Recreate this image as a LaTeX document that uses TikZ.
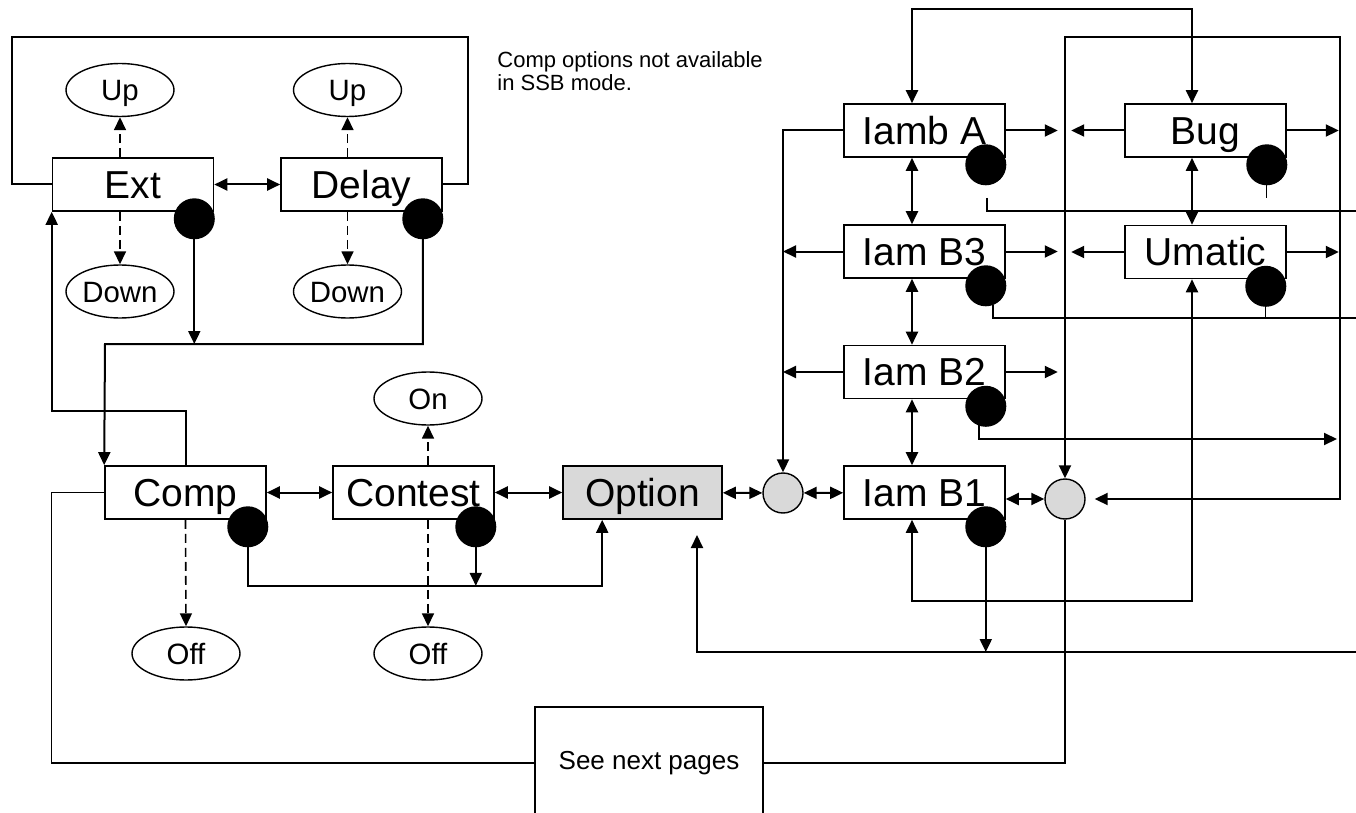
\documentclass[tikz,border=0pt]{standalone}
\usepackage{fontspec}
\setmainfont{Liberation Sans}
\usetikzlibrary{arrows.meta,shapes.geometric,calc}
\definecolor{lgray}{RGB}{217,217,217}
\begin{document}
\begin{tikzpicture}[x=0.5pt,y=-0.5pt,
  box/.style={draw,line width=0.8pt,minimum width=80.5pt,minimum height=26.5pt,inner sep=0pt,fill=white,font=\fontsize{19.5}{22}\selectfont,text height=13.9pt,text depth=0pt},
  oval/.style={draw,ellipse,line width=0.7pt,minimum width=54pt,minimum height=26.5pt,inner sep=0pt,font=\fontsize{14.7}{16}\selectfont,text height=10.5pt,text depth=0pt},
  bdot/.style={circle,fill=black,minimum size=20.5pt,inner sep=0pt},
  junc/.style={circle,draw,line width=0.7pt,fill=lgray,minimum size=20pt,inner sep=0pt},
  conn/.style={line width=1pt},
  thinl/.style={line width=0.65pt},
  arr/.style={conn,-{Triangle[length=6.5pt 0,width=6pt 0]}},
  darr/.style={conn,{Triangle[length=6.5pt 0,width=6pt 0]}-{Triangle[length=6.5pt 0,width=6pt 0]}},
  dsh/.style={line width=0.8pt,dash pattern=on 4.5pt off 2.5pt,-{Triangle[length=6.5pt 0,width=6pt 0]}},
  note/.style={anchor=base west,inner sep=0pt,font=\fontsize{11}{13}\selectfont}
]
\useasboundingbox (0,0) rectangle (1356,813);

% ---------- boxes ----------
\node[box] (ext) at (133,184.5) {Ext};
\node[box] (delay) at (361.5,184.5) {Delay};
\node[box] (comp) at (185.5,492.5) {Comp};
\node[box] (contest) at (413.5,492.5) {Contest};
\node[box,fill=lgray,minimum width=79.5pt] (option) at (642.5,492.5) {Option};
\node[box] (iamba) at (924.5,130.5) {Iamb A};
\node[box] (iamb3) at (924.5,251.5) {Iam B3};
\node[box] (iamb2) at (924.5,372) {Iam B2};
\node[box] (iamb1) at (924.5,492.5) {Iam B1};
\node[box] (bug) at (1205.5,130.5) {Bug};
\node[box] (umatic) at (1205.5,252) {Umatic};

% ---------- ellipses ----------
\node[oval] (upext) at (120,90) {Up};
\node[oval] (updelay) at (347.5,90) {Up};
\node[oval] (downext) at (120,291.5) {Down};
\node[oval] (downdelay) at (347.5,291.5) {Down};
\node[oval] (on) at (428,398.5) {On};
\node[oval] (offcomp) at (186,653.5) {Off};
\node[oval] (offcontest) at (428,653.5) {Off};

% ---------- junction circles ----------
\node[junc] (ja) at (783,493) {};
\node[junc] (jb) at (1065,499) {};

% ---------- see next pages ----------
\node[draw,thinl,minimum width=114pt,minimum height=56pt,inner sep=0pt,font=\fontsize{13}{15}\selectfont] (see) at (649,763) {See next pages};

% ---------- note ----------
\node[note] (note1) at (497,68) {Comp options not available};
\node[note] (note2) at (497,91) {in SSB mode.};

% ---------- dots (positions) ----------
\coordinate (pext) at ($(ext.south east)+(-20,7)$);
\coordinate (pdelay) at ($(delay.south east)+(-20,7)$);
\coordinate (pcomp) at ($(comp.south east)+(-19,7)$);
\coordinate (pcontest) at ($(contest.south east)+(-19,7)$);
\coordinate (piamba) at ($(iamba.south east)+(-20,7)$);
\coordinate (pbug) at ($(bug.south east)+(-20,7)$);
\coordinate (piamb3) at ($(iamb3.south east)+(-20,7)$);
\coordinate (pumatic) at ($(umatic.south east)+(-21,7)$);
\coordinate (piamb2) at ($(iamb2.south east)+(-20,7)$);
\coordinate (piamb1) at ($(iamb1.south east)+(-20,7)$);

% ---------- free ends / bends ----------
\coordinate (loopl) at (12,37);
\coordinate (loopr) at (468,37);
\coordinate (bus1) at (105,344);
\coordinate (optin) at ($(option.south west)+(40,0)$);
\coordinate (rb) at (1356,652);
\coordinate (optarr) at (697,535);
\coordinate (toploop) at (1340,37);
\coordinate (ea) at (1356,211);
\coordinate (eb) at (1356,318);
\coordinate (ec) at (1337,439);

% ---------- connectors: left part ----------
\draw[conn] (ext.west) -| (loopl) -- (loopr) |- (delay.east);
\draw[darr] (ext) -- (delay);
\draw[dsh] (upext |- ext.north) -- (upext.south);
\draw[dsh] (downext |- ext.south) -- (downext.north);
\draw[dsh] (updelay |- delay.north) -- (updelay.south);
\draw[dsh] (downdelay |- delay.south) -- (downdelay.north);

\draw[arr] ($(pext)+(0,20)$) -- (pext |- bus1);
\draw[arr] ($(pdelay)+(0,20)$) |- (bus1) -- (comp.north west);
\draw[arr] (comp.north) -- ++(0,-54) -| (ext.south west);
\draw[thinl] (comp.west) -- ++(-52.5,0) |- (see.west);

\draw[darr] (comp) -- (contest);
\draw[darr] (contest) -- (option);
\draw[dsh] (on |- contest.north) -- (on.south);
\draw[dsh] (comp.south) -- (offcomp.north);
\draw[dsh] (offcontest |- contest.south) -- (offcontest.north);

\draw[arr] ($(pcomp)+(0,20)$) -- ++(0,39) -| (optin);
\draw[arr] ($(pcontest)+(0,20)$) -- ++(0,39);

\draw[arr] (rb) -| (optarr);

% ---------- connectors: right part ----------
\draw[darr] (option) -- (ja);
\draw[darr] (ja) -- (iamb1);
\draw[darr] (jb.west) -- (jb.west -| iamb1.east);

\draw[arr] (iamba.west) -| (ja.north);
\draw[arr] (iamb3.west) -- (iamb3.west -| ja.north);
\draw[arr] (iamb2.west) -- (iamb2.west -| ja.north);

\draw[arr] (iamba.east) -- ++(52,0);
\draw[arr] (iamb3.east) -- ++(52,0);
\draw[arr] (iamb2.east) -- ++(52,0);
\draw[arr] (bug.west) -- ++(-53,0);
\draw[arr] (umatic.west) -- ++(-53,0);
\draw[arr] (bug.east) -- ++(52,0);
\draw[arr] (umatic.east) -- ++(52,0);

\draw[darr] ([xshift=-6.25pt]iamba.north) -- ++(0,-94) -| ([xshift=-6.75pt]bug.north);
\draw[darr] ([xshift=-6.25pt]iamba.south) -- ([xshift=-6.25pt]iamb3.north);
\draw[darr] ([xshift=-6.25pt]iamb3.south) -- ([xshift=-6.25pt]iamb2.north);
\draw[darr] ([xshift=-6.25pt]iamb2.south) -- ([xshift=-6.25pt]iamb1.north);
\draw[darr] ([xshift=-6.75pt]bug.south) -- ([xshift=-6.75pt]umatic.north);
\draw[darr] ([xshift=-6.25pt]iamb1.south) -- ++(0,81) -| ([xshift=-6.75pt]umatic.south);

\draw[darr] ([xshift=4.5pt]jb.east) -| (toploop) -| (jb.north);
\draw[thinl] (jb.south) |- (see.east);

\draw[arr] ($(piamb1)+(0,20)$) -- (piamb1 |- rb);
\draw[conn] ($(piamba)+(1,33)$) |- (ea);
\draw[thinl] ($(pbug)+(0,20)$) -- ++(0,13);
\draw[conn] ($(piamb3)+(7,19)$) |- (eb);
\draw[thinl] ($(pumatic)+(0,20)$) -- (pumatic |- eb);
\draw[arr] ($(piamb2)+(-7,19)$) |- (ec);

% ---------- dots ----------
\node[bdot] (dext) at (pext) {};
\node[bdot] (ddelay) at (pdelay) {};
\node[bdot] (dcomp) at (pcomp) {};
\node[bdot] (dcontest) at (pcontest) {};
\node[bdot] (diamba) at (piamba) {};
\node[bdot] (dbug) at (pbug) {};
\node[bdot] (diamb3) at (piamb3) {};
\node[bdot] (dumatic) at (pumatic) {};
\node[bdot] (diamb2) at (piamb2) {};
\node[bdot] (diamb1) at (piamb1) {};
\end{tikzpicture}
\end{document}
